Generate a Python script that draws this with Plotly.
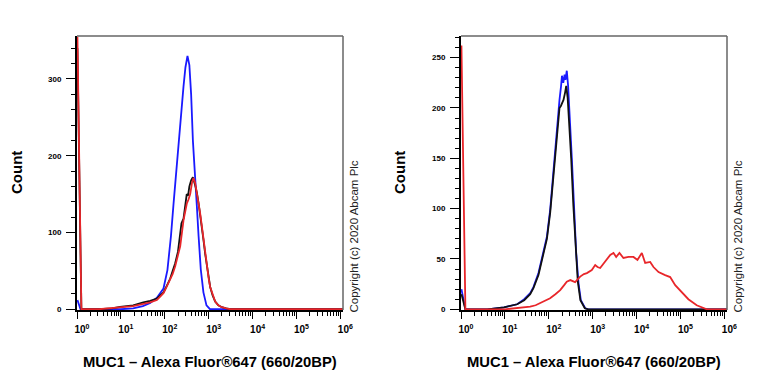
import plotly.graph_objects as go

# ---------------- data (x given as log10 of intensity) ----------------
L_blue_x = [0.01, 0.08, 1.0, 1.28, 1.5, 1.667, 1.82, 1.97, 2.06, 2.14, 2.20, 2.26, 2.30, 2.335, 2.38, 2.426, 2.47, 2.517,
            2.56, 2.60, 2.64, 2.68, 2.73, 2.77, 2.82, 2.88, 2.95, 3.03, 6.07]
L_blue_y = [12, 0, 0, 1, 4, 8, 15, 27, 51, 95, 138, 180, 210, 230, 262, 290, 315, 330,
            318, 280, 220, 175, 135, 95, 52, 22, 5, 0, 0]

L_black_x = [0.01, 0.1, 0.5, 0.8, 0.98, 1.28, 1.51, 1.667, 1.82, 1.97, 2.05, 2.123, 2.18, 2.237, 2.30, 2.351, 2.38,
             2.427, 2.46, 2.50, 2.53, 2.56, 2.60, 2.64, 2.69, 2.731, 2.77, 2.806, 2.845, 2.882, 2.92, 2.959, 3.0,
             3.034, 3.09, 3.148, 3.22, 3.30, 3.40, 3.49, 6.07]
L_black_y = [340, 0, 0, 1, 3, 5, 9, 11, 14, 22, 31, 40, 50, 60, 75, 100, 112,
             118, 135, 150, 148, 160, 168, 172, 162, 152, 138, 124, 107, 90, 72, 55, 40,
             29, 18, 10, 5, 2.6, 1, 0, 0]

L_red_x = [0.01, 0.1, 0.5, 0.75, 0.98, 1.28, 1.51, 1.667, 1.82, 1.97, 2.05, 2.123, 2.18, 2.237, 2.30, 2.351, 2.427,
           2.47, 2.503, 2.54, 2.579, 2.62, 2.654, 2.69, 2.731, 2.77, 2.806, 2.845, 2.882, 2.92, 2.959, 3.0, 3.034,
           3.09, 3.148, 3.22, 3.30, 3.40, 3.49, 6.07]
L_red_y = [355, 0, 0, 1, 2, 4, 7, 9, 12, 21, 30, 38, 46, 56, 70, 82, 116,
           128, 138, 143, 150, 165, 171, 165, 151, 140, 125, 108, 90, 72, 56, 40, 29,
           18, 10, 5, 2.6, 1, 0, 0]

R_blue_x = [0.01, 0.1, 0.6, 0.98, 1.28, 1.44, 1.576, 1.65, 1.765, 1.88, 1.957, 2.032, 2.107, 2.184, 2.244, 2.28,
            2.30, 2.33, 2.36, 2.38, 2.41, 2.44, 2.472, 2.526, 2.579, 2.624, 2.677, 2.73, 2.83, 2.90, 6.07]
R_blue_y = [20, 0, 0, 2, 5, 10, 16, 22, 36, 56, 72, 99, 139, 182, 208, 222,
            232, 225, 233, 228, 237, 222, 198, 149, 99, 56, 26, 9, 1, 0, 0]

R_black_x = [0.01, 0.1, 0.6, 0.98, 1.28, 1.44, 1.576, 1.65, 1.765, 1.88, 1.957, 2.032, 2.107, 2.184, 2.244, 2.275,
             2.31, 2.335, 2.37, 2.397, 2.43, 2.46, 2.51, 2.56, 2.61, 2.66, 2.72, 2.82, 2.90, 6.07]
R_black_y = [15, 0, 0, 2, 5, 9, 15, 21, 34, 54, 70, 96, 134, 175, 200, 202,
             206, 208, 215, 222, 210, 190, 150, 103, 60, 28, 9, 1, 0, 0]

R_red_x = [0.01, 0.1, 1.0, 1.28, 1.576, 1.70, 1.89, 2.03, 2.15, 2.26, 2.35, 2.41, 2.49, 2.55, 2.60, 2.715, 2.80,
           2.868, 2.98, 3.057, 3.11, 3.17, 3.285, 3.40, 3.474, 3.535, 3.61, 3.70, 3.816, 3.93, 4.02, 4.12, 4.196,
           4.31, 4.385, 4.5, 4.65, 4.765, 4.88, 5.03, 5.18, 5.37, 5.52, 5.6, 6.07]
R_red_y = [262, 0, 0, 1, 2.6, 4, 8, 11, 15, 19, 24, 27.5, 29, 28, 27, 32.5, 35,
           36, 39, 44, 42, 41, 47, 54, 56, 52, 56, 51, 52, 52, 49, 56, 46,
           47, 42, 37, 34, 32, 24, 17.5, 10, 4, 1, 0, 0]

x_tick_exp = [0, 1, 2, 3, 4, 5, 6]
x_title = "MUC1 – Alexa Fluor®647 (660/20BP)"
y_title = "Count"
copyright = "Copyright (c) 2020 Abcam Plc"

BLUE = "#1a1aff"
BLACK = "#111111"
RED = "#e8262a"
FONT = "Liberation Sans, Arial, sans-serif"

W, H = 768, 384
def fx(px):
    return px / W
def fy(py):
    return 1 - py / H

fig = go.Figure()

def add(xs, ys, color, xa, ya):
    fig.add_trace(go.Scatter(x=[10 ** v for v in xs], y=ys, mode="lines",
                             line=dict(color=color, width=1.8),
                             xaxis=xa, yaxis=ya, showlegend=False, hoverinfo="skip"))

add(L_blue_x, L_blue_y, BLUE, "x", "y")
add(L_black_x, L_black_y, BLACK, "x", "y")
add(L_red_x, L_red_y, RED, "x", "y")
add(R_blue_x, R_blue_y, BLUE, "x2", "y2")
add(R_black_x, R_black_y, BLACK, "x2", "y2")
add(R_red_x, R_red_y, RED, "x2", "y2")

minor_vals = [k * 10 ** e for e in range(6) for k in range(2, 10)]

def xaxis_cfg(domain, anchor):
    return dict(type="log", domain=domain, anchor=anchor, range=[0, 6.06],
                automargin=False,
                tickmode="array", tickvals=[10 ** e for e in x_tick_exp],
                ticktext=[f"10<sup>{e}</sup>" for e in x_tick_exp],
                ticks="outside", ticklen=7, tickwidth=1, tickcolor="black",
                tickfont=dict(family=FONT, size=10, color="black", weight="bold"),
                ticklabelshift=5, ticklabelstandoff=2,
                minor=dict(tickmode="array", tickvals=minor_vals, ticks="outside",
                           ticklen=4, tickwidth=1, tickcolor="black"),
                showline=True, linecolor="black", linewidth=2,
                showgrid=False, zeroline=False, fixedrange=True)

def yaxis_cfg(domain, anchor, rng, dtick, mdtick):
    return dict(domain=domain, anchor=anchor, range=rng, dtick=dtick, tick0=0,
                automargin=False,
                ticks="outside", ticklen=9, tickwidth=1, tickcolor="black",
                tickfont=dict(family=FONT, size=8, color="black", weight="bold"),
                ticklabelstandoff=3,
                minor=dict(dtick=mdtick, tick0=0, ticks="outside", ticklen=4,
                           tickwidth=1, tickcolor="black"),
                showline=True, linecolor="black", linewidth=2,
                showgrid=False, zeroline=False, fixedrange=True)

ydom = [fy(310), fy(36)]
fig.update_layout(
    width=W, height=H, margin=dict(l=0, r=0, t=0, b=0, autoexpand=False),
    paper_bgcolor="white", plot_bgcolor="white",
    xaxis=xaxis_cfg([fx(77), fx(343)], "y"),
    yaxis=yaxis_cfg(ydom, "x", [-1, 356], 100, 20),
    xaxis2=xaxis_cfg([fx(461), fx(727)], "y2"),
    yaxis2=yaxis_cfg(ydom, "x2", [-0.7, 271.5], 50, 10),
)

# gray frame (top / right)
for xr, yr in (("x domain", "y domain"), ("x2 domain", "y2 domain")):
    fig.add_shape(type="line", xref=xr, yref=yr, x0=0, x1=1, y0=1, y1=1,
                  line=dict(color="#666666", width=1.5))
    fig.add_shape(type="line", xref=xr, yref=yr, x0=1, x1=1, y0=0, y1=1,
                  line=dict(color="#666666", width=1.5))

for cx_count, cx_title, cx_copy in ((17, 210, 353), (400, 594, 737)):
    fig.add_annotation(text=f"<b>{y_title}</b>", xref="paper", yref="paper",
                       x=fx(cx_count), y=fy(173), textangle=-90, showarrow=False,
                       xanchor="center", yanchor="middle",
                       font=dict(family=FONT, size=15, color="black"))
    fig.add_annotation(text=f"<b>{x_title}</b>", xref="paper", yref="paper",
                       x=fx(cx_title), y=fy(361.5), showarrow=False,
                       xanchor="center", yanchor="middle",
                       font=dict(family=FONT, size=14.8, color="black"))
    fig.add_annotation(text=copyright, xref="paper", yref="paper",
                       x=fx(cx_copy), y=fy(236.5), textangle=-90, showarrow=False,
                       xanchor="center", yanchor="middle",
                       font=dict(family=FONT, size=11.5, color="#222222"))

fig.write_html("out.html", config={"displayModeBar": False, "staticPlot": True},
               post_script="document.body.style.margin='0';document.body.style.overflow='hidden';")
